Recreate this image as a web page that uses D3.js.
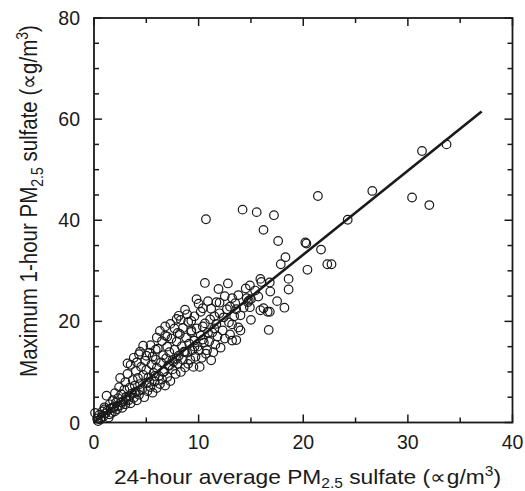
<!DOCTYPE html>
<html><head><meta charset="utf-8">
<script src="https://cdn.jsdelivr.net/npm/d3@7"></script>
<style>body{margin:0;background:#fff}svg{display:block}text{font-family:"Liberation Sans",Arial,sans-serif;fill:#1a1a1a}</style>
</head><body><svg id="c" width="525" height="491"></svg>
<script>
// 24-hour average PM2.5 sulfate (x) and maximum 1-hour PM2.5 sulfate (y)
const sulfate24h = [0.1,0.3,0.5,0.6,0.8,0.9,1.0,1.1,1.2,1.3,1.4,1.5,1.6,1.7,1.8,1.9,2.0,2.0,2.1,2.2,2.3,2.4,2.5,2.5,2.6,2.7,2.8,2.9,3.0,3.0,3.1,3.2,3.3,3.4,3.5,3.5,3.6,3.7,3.8,3.9,4.0,4.0,4.1,4.2,4.3,4.3,4.4,4.5,4.6,4.7,4.7,4.8,4.9,5.0,5.0,5.1,5.2,5.3,5.4,5.5,5.6,5.6,5.7,5.8,5.9,6.0,6.0,6.1,6.2,6.3,6.3,6.4,6.5,6.5,6.6,6.7,6.8,6.8,6.9,7.0,7.0,7.1,7.2,7.3,7.4,7.5,7.5,7.6,7.7,7.7,7.8,7.9,8.0,8.1,8.1,8.2,8.3,8.4,8.5,8.5,8.6,8.7,8.8,8.9,8.9,9.0,9.0,9.1,9.2,9.3,9.3,9.4,9.5,9.6,9.7,9.8,9.9,10.0,10.1,10.2,10.2,10.3,10.4,10.5,10.6,10.6,10.7,10.8,10.9,11.0,11.1,11.2,11.4,11.5,11.6,11.7,11.7,11.8,12.0,12.0,12.1,12.3,12.5,12.5,12.7,12.8,12.9,13.0,13.2,13.2,13.2,13.4,13.6,13.6,13.8,14.0,14.0,14.2,14.3,14.5,14.6,14.7,14.8,14.9,15.0,15.0,15.4,15.55,15.7,15.9,15.9,16.0,16.2,16.2,16.6,16.8,16.85,16.8,17.2,17.5,17.6,17.85,18.2,18.3,18.6,18.6,20.2,20.3,20.4,21.4,21.7,22.3,22.7,24.25,26.6,30.4,31.35,32.05,33.7,10.7,16.7,0.4,0.7,1.0,1.5,1.9,2.3,2.6,3.1,3.4,3.9,4.4,5.3,5.8,6.6,7.2,7.9,8.7,9.6,10.4,11.3,6.8,7.3,8.3,9.6,10.0,10.9,11.2,11.9,9.8,8.7,7.9,6.0,5.4,4.4,3.8,3.2,12.4,13.0,11.5,10.4,9.3,8.0,7.0,5.9,5.0,4.1,13.8,14.9,13.5];
const sulfateMax1h = [1.9,0.8,1.5,0.6,2.2,1.2,3.0,1.8,5.3,2.4,1.0,3.6,2.8,1.9,4.4,3.1,2.2,5.8,3.9,2.6,4.8,7.0,8.8,3.4,5.6,2.9,4.2,6.5,3.6,8.0,5.1,9.6,4.4,6.9,11.4,3.8,5.7,8.4,4.9,7.3,10.2,6.1,4.4,8.8,13.5,5.5,7.6,11.0,6.6,15.2,9.4,5.0,12.2,7.8,10.4,6.2,8.9,13.8,7.0,11.5,13.0,5.9,9.8,8.1,12.4,6.8,10.8,14.6,9.2,18.1,7.6,11.9,16.1,8.5,13.3,10.1,17.2,7.3,12.7,9.0,15.0,11.3,13.9,8.2,16.6,10.5,12.3,12.0,18.6,14.4,9.6,16.0,11.6,21.1,13.2,17.5,10.0,15.1,18.7,12.4,14.0,10.9,16.8,13.8,21.4,19.9,11.6,15.6,12.4,17.9,20.1,14.3,11.0,16.2,13.0,18.6,15.0,14.3,11.0,21.9,17.2,12.8,19.0,15.8,27.6,19.6,13.6,14.3,17.8,16.0,20.4,12.3,13.9,18.6,15.4,23.8,19.5,17.0,21.6,23.7,14.8,18.2,25.0,16.6,22.4,27.5,19.8,17.4,24.6,19.4,16.2,21.0,22.4,16.3,18.8,21.2,18.2,42.1,22.7,26.5,24.6,23.8,24.1,22.8,24.4,20.3,26.1,41.6,24.9,28.4,22.2,27.8,22.6,38.1,21.9,27.7,25.9,21.9,41.0,24.0,35.9,31.3,22.7,32.7,28.4,26.3,35.6,35.4,30.2,44.8,34.2,31.3,31.3,40.1,45.8,44.5,53.7,43.0,55.0,40.2,18.3,0.3,1.0,2.6,1.6,2.9,3.3,4.0,4.6,5.2,5.9,6.3,8.0,9.2,10.0,11.2,12.6,13.9,15.0,16.4,17.8,19.0,19.5,20.3,21.0,23.5,24.0,22.5,26.4,24.4,22.3,20.5,16.8,15.3,14.0,12.8,11.7,20.8,22.9,21.0,22.6,18.2,17.7,17.0,14.4,13.2,11.9,25.2,27.1,23.6];
const xTicks = [0,10,20,30,40];
const yTicks = [0,20,40,60,80];
const fitLine = [[0,0],[37.05,61.5]];

const svg = d3.select("#c");
const L=94, R=512.5, T=18, B=422.5;
const x = d3.scaleLinear().domain([0,40]).range([L,R]);
const y = d3.scaleLinear().domain([0,80]).range([B,T]);
const ink="#1a1a1a";

// points
const pts = sulfate24h.map((v,i)=>[v,sulfateMax1h[i]]);
svg.append("g").selectAll("circle").data(pts).join("circle")
  .attr("cx",d=>x(d[0])).attr("cy",d=>y(d[1])).attr("r",4.3)
  .attr("fill","none").attr("stroke",ink).attr("stroke-width",1.2);

// regression line
svg.append("path").datum(fitLine)
  .attr("d",d3.line().x(d=>x(d[0])).y(d=>y(d[1])))
  .attr("stroke",ink).attr("stroke-width",2.6).attr("fill","none");

// frame
svg.append("rect").attr("x",L).attr("y",T).attr("width",R-L).attr("height",B-T)
  .attr("fill","none").attr("stroke",ink).attr("stroke-width",1.8);

// ticks (inward, all four sides)
const xMinor=d3.range(0,41,5), yMinor=d3.range(0,81,5);
const tk=svg.append("g").attr("stroke",ink).attr("stroke-width",1.5);
xMinor.forEach(v=>{const len=v%10===0?8:5;
  tk.append("line").attr("x1",x(v)).attr("x2",x(v)).attr("y1",B).attr("y2",B-len);
  tk.append("line").attr("x1",x(v)).attr("x2",x(v)).attr("y1",T).attr("y2",T+len);});
yMinor.forEach(v=>{const len=v%20===0?8:5;
  tk.append("line").attr("y1",y(v)).attr("y2",y(v)).attr("x1",L).attr("x2",L+len);
  tk.append("line").attr("y1",y(v)).attr("y2",y(v)).attr("x1",R).attr("x2",R-len);});

// tick labels
svg.append("g").selectAll("text").data(xTicks).join("text")
  .attr("x",d=>x(d)).attr("y",449).attr("text-anchor","middle")
  .attr("font-size",19.5).text(d=>d);
svg.append("g").selectAll("text").data(yTicks).join("text")
  .attr("x",80).attr("y",d=>y(d)+7).attr("text-anchor","end")
  .attr("font-size",19.5).text(d=>d);

// x title
const xt=svg.append("text").attr("transform","translate(307.5,484) scale(1.11,1)").attr("text-anchor","middle").attr("font-size",20.5);
xt.append("tspan").text("24-hour average PM");
xt.append("tspan").attr("dy",4).attr("font-size",14).text("2.5");
xt.append("tspan").attr("dy",-4).text(" sulfate (\u221Dg/m");
xt.append("tspan").attr("dy",-8).attr("font-size",14).text("3");
xt.append("tspan").attr("dy",8).text(")");

// y title
const yt=svg.append("text").attr("transform","translate(37,201) rotate(-90) scale(1,1.15)").attr("text-anchor","middle").attr("font-size",20.5);
yt.append("tspan").text("Maximum 1-hour PM");
yt.append("tspan").attr("dy",5).attr("font-size",14).text("2.5");
yt.append("tspan").attr("dy",-5).text(" sulfate (\u221Dg/m");
yt.append("tspan").attr("dy",-8).attr("font-size",14).text("3");
yt.append("tspan").attr("dy",8).text(")");
</script></body></html>
